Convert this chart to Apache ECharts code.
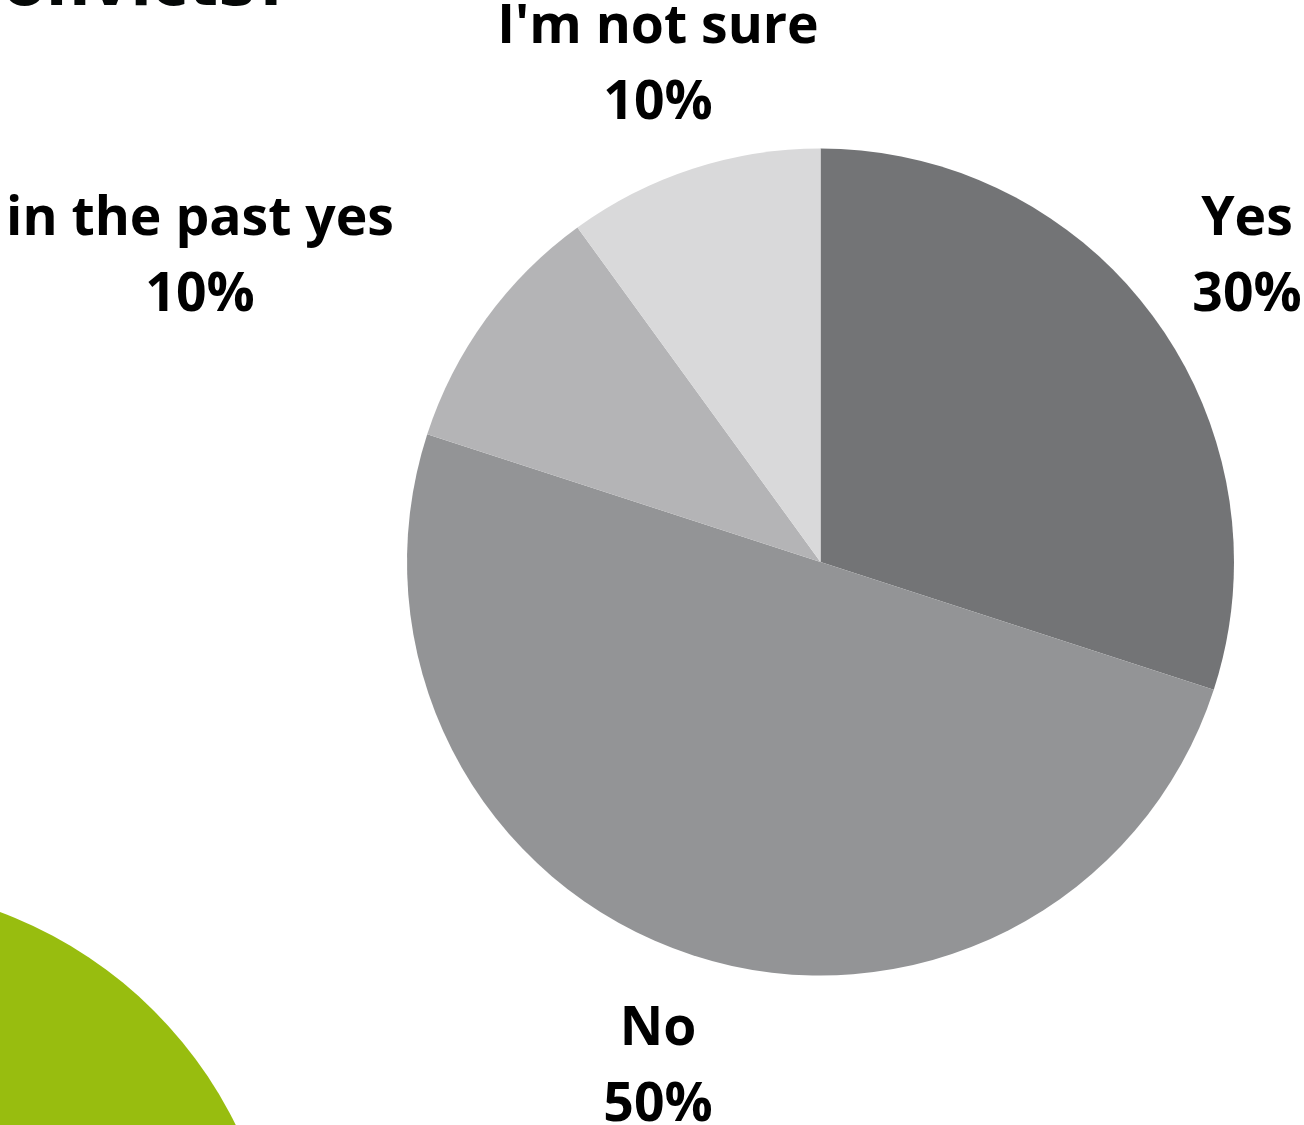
<!DOCTYPE html>
<html>
<head>
<meta charset="utf-8">
<style>
  html, body { margin: 0; padding: 0; background: #ffffff; }
  #chart { width: 1304px; height: 1125px; }
</style>
<script src="https://cdn.jsdelivr.net/npm/echarts@6/dist/echarts.min.js"></script>
</head>
<body>
<div id="chart"></div>
<script>
// Survey answers, in drawing order clockwise from 12 o'clock
const categories = ['Yes', 'No', 'in the past yes', "I'm not sure"];
const shares = [30, 50, 10, 10];
const sliceColors = ['#737476', '#939496', '#b4b4b6', '#d9d9da'];
// Where each answer's label block is centred on the page
const labelSpots = [[1247, 258], [658, 1068], [200, 258], [658, 66]];

const chart = echarts.init(document.getElementById('chart'), null, { renderer: 'canvas' });

chart.setOption({
  backgroundColor: '#ffffff',
  animation: false,
  graphic: [
    {
      type: 'circle',
      shape: { cx: -150, cy: 1315, r: 430 },
      style: { fill: '#98bd0f' },
      z: 0
    },
    {
      type: 'text',
      x: 291,
      y: 20,
      style: {
        text: 'convicts?',
        fill: '#050807',
        font: 'bold 62px "DejaVu Sans"',
        textAlign: 'right',
        textVerticalAlign: 'bottom'
      },
      z: 5
    }
  ],
  series: [{
    type: 'pie',
    center: [820.5, 562],
    radius: [0, 413.5],
    startAngle: 90,
    clockwise: true,
    silent: true,
    data: categories.map((name, i) => ({
      name: name,
      value: shares[i],
      itemStyle: { color: sliceColors[i] }
    })),
    itemStyle: { borderWidth: 0 },
    label: {
      show: true,
      position: 'outside',
      formatter: '{b}\n{d}%',
      color: '#000000',
      fontFamily: 'Open Sans',
      fontWeight: 'bold',
      fontSize: 53.5,
      lineHeight: 76,
      align: 'center',
      overflow: 'none',
      width: 500
    },
    labelLine: { show: false },
    labelLayout: function (params) {
      const p = labelSpots[params.dataIndex];
      return { x: p[0], y: p[1], align: 'center', verticalAlign: 'middle', hideOverlap: false };
    }
  }]
});
</script>
</body>
</html>
